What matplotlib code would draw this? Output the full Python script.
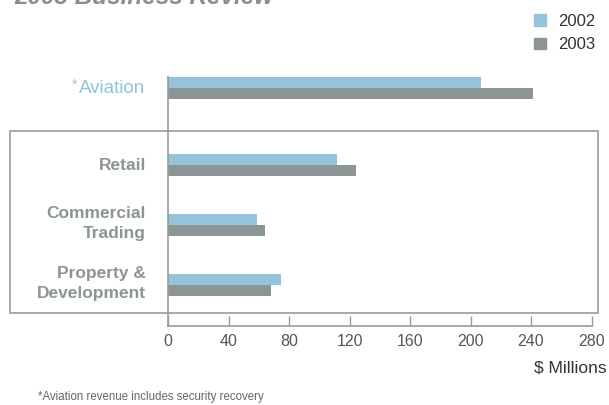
import matplotlib.pyplot as plt
from matplotlib.patches import Rectangle, Patch
from matplotlib.transforms import ScaledTranslation

plt.rcParams['font.family'] = ['Liberation Sans', 'DejaVu Sans']

# revenue by business unit, $ millions
segments = ['Property &\nDevelopment', 'Commercial\nTrading', 'Retail', 'Aviation']
rev_2002 = [75, 59, 112, 207]
rev_2003 = [68, 64, 124, 241]
years = ['2002', '2003']
xticks = [0, 40, 80, 120, 160, 200, 240, 280]

# aviation sits a bit further up, outside the boxed group
ypos = [0, 1, 2, 3.27]

c02 = '#94c3da'
c03 = '#8a9594'
grey_txt = '#8a9594'
axis_col = '#9a9a9a'

fig = plt.figure(figsize=(6.09, 4.05), dpi=100)
ax = fig.add_axes([168 / 609, 1 - 326 / 405, (591.5 - 168) / 609, (326 - 77) / 405])

bh = 11 / 60
ax.barh([y + bh / 2 for y in ypos], rev_2002, height=bh, color=c02, label=years[0])
ax.barh([y - bh / 2 for y in ypos], rev_2003, height=bh, color=c03, label=years[1])

ax.set_xlim(0, 280)
ax.set_ylim(-0.69, 3.46)
ax.set_xticks(xticks)
ax.set_xticklabels([str(t) for t in xticks], fontsize=11.5, color='#555555')
ax.tick_params(axis='x', direction='in', length=7, width=1, color=axis_col, pad=6)

ax.set_yticks(ypos)
ax.set_yticklabels([s if s != 'Aviation' else '' for s in segments],
                   fontsize=12.5, fontweight='bold', color=grey_txt, linespacing=1.45)
ax.tick_params(axis='y', length=0, pad=16)
# nudge the category names up a little (two-line names a bit more)
for lbl in ax.get_yticklabels():
    dy = 5.5 if '\n' in lbl.get_text() else 1
    lbl.set_transform(lbl.get_transform() + ScaledTranslation(0, dy / 100, fig.dpi_scale_trans))

for s in ['top', 'right']:
    ax.spines[s].set_visible(False)
for s in ['left', 'bottom']:
    ax.spines[s].set_color(axis_col)
    ax.spines[s].set_linewidth(1.2)

# aviation label in blue with its footnote marker
ax.annotate('Aviation', xy=(0, ypos[3]), xycoords=('axes fraction', 'data'),
            xytext=(-16.5, 0), textcoords='offset points', fontsize=13.5,
            color=c02, ha='right', va='center')
fig.text(77 / 609, 1 - 85 / 405, '*', fontsize=10, color=c02, ha='right', va='center')

# box around the non-aviation segments
fig.patches.append(Rectangle((10 / 609, 1 - 313 / 405), 588 / 609, 182 / 405,
                             transform=fig.transFigure, fill=False,
                             edgecolor=axis_col, linewidth=1.2))

handles = [Patch(color=c02), Patch(color=c03)]
fig.legend(handles, years, loc='upper right', bbox_to_anchor=(595 / 609, 1 - 14 / 405),
           frameon=False, fontsize=12, handlelength=0.7, handleheight=0.7,
           handletextpad=0.7, labelspacing=0.5, borderpad=0, borderaxespad=0,
           labelcolor='#333333')

fig.text(607 / 609, 1 - 368 / 405, '$ Millions', fontsize=12.5, color='#333333',
         ha='right', va='center')
fig.text(38 / 609, 1 - 397 / 405, '*Aviation revenue includes security recovery',
         fontsize=8.3, color='#666666', ha='left', va='center')
fig.text(14 / 609, 1 - 4 / 405, '2003 Business Review', fontsize=17.5,
         fontweight='bold', fontstyle='italic', color='#8c8c8c',
         ha='left', va='baseline')

fig.savefig('out.png', dpi=100)
